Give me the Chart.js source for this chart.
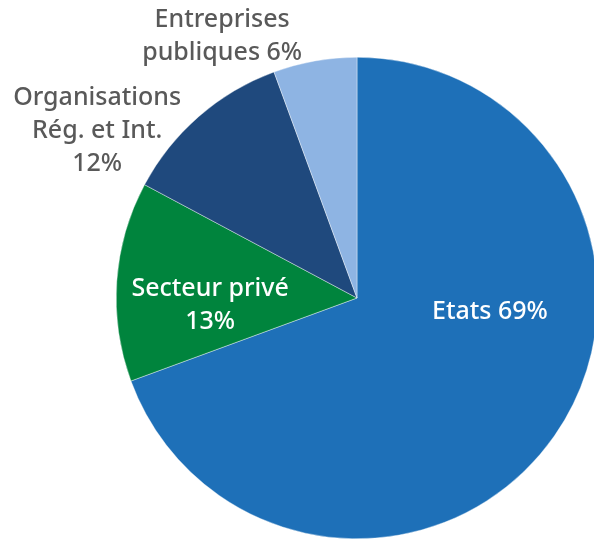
<!DOCTYPE html>
<html>
<head>
<meta charset="utf-8">
<script src="https://cdn.jsdelivr.net/npm/chart.js@4"></script>
<style>
  html, body { margin: 0; padding: 0; background: #fff; overflow: hidden; }
  #wrap { position: absolute; left: 0; top: 0; width: 714px; height: 539px; }
</style>
</head>
<body>
<div id="wrap"><canvas id="pie" width="714" height="539"></canvas></div>
<script>
const categories = ['Etats', 'Secteur privé', 'Organisations Rég. et Int.', 'Entreprises publiques'];
const shares = [69.4, 13.4, 11.6, 5.6];
const labelText = [
  ['Etats 69%'],
  ['Secteur privé', '13%'],
  ['Organisations', 'Rég. et Int.', '12%'],
  ['Entreprises', 'publiques 6%']
];

const colors = ['#1E70B8', '#00843D', '#1F497D', '#8EB4E3'];
const labelColors = ['#ffffff', '#ffffff', '#595959', '#595959'];
// label centre relative to pie centre, in radius units
const labelAnchors = [[0.552, 0.058], [-0.61, 0.03], [-1.079, -0.693], [-0.56, -1.087]];

const sliceLabels = {
  id: 'sliceLabels',
  afterDraw(chart) {
    const ctx = chart.ctx;
    const arcs = chart.getDatasetMeta(0).data;
    ctx.save();
    ctx.font = '500 25px "Noto Sans", sans-serif';
    ctx.textAlign = 'center';
    ctx.textBaseline = 'middle';
    const lh = 33;
    arcs.forEach((arc, i) => {
      const r = arc.outerRadius;
      const cx = arc.x + labelAnchors[i][0] * r;
      const cy = arc.y + labelAnchors[i][1] * r;
      const lines = labelText[i];
      ctx.fillStyle = labelColors[i];
      lines.forEach((t, j) => {
        ctx.fillText(t, cx, cy + (j - (lines.length - 1) / 2) * lh);
      });
    });
    ctx.restore();
  }
};

new Chart(document.getElementById('pie'), {
  type: 'pie',
  data: {
    labels: categories,
    datasets: [{
      data: shares,
      backgroundColor: colors,
      borderColor: '#ffffff',
      borderWidth: 0.4,
      hoverOffset: 0
    }]
  },
  options: {
    responsive: false,
    animation: false,
    layout: { padding: { top: 57, bottom: 0, left: 0, right: 0 } },
    plugins: {
      legend: { display: false },
      tooltip: { enabled: false }
    }
  },
  plugins: [sliceLabels]
});
</script>
</body>
</html>
